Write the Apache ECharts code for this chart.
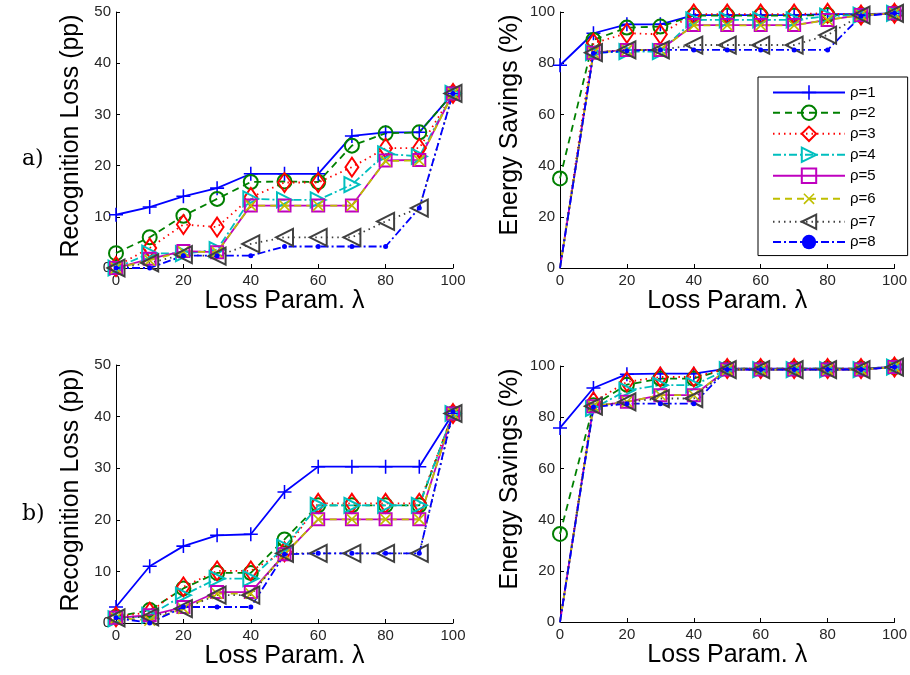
<!DOCTYPE html>
<html><head><meta charset="utf-8">
<script src="https://cdn.jsdelivr.net/npm/echarts@6/dist/echarts.min.js"></script>
<style>html,body{margin:0;padding:0;background:#fff}#c{width:910px;height:675px}</style>
</head><body><div id="c"></div>
<script>
const lambda = [0,10,20,30,40,50,60,70,80,90,100];
const rhoNames = ['ρ=1','ρ=2','ρ=3','ρ=4','ρ=5','ρ=6','ρ=7','ρ=8'];

// a) Recognition Loss (pp)
const lossA_r1 = [10.4,11.9,14.0,15.6,18.4,18.4,18.4,25.8,26.5,26.5,34.1];
const lossA_r2 = [2.9,6.0,10.2,13.5,16.8,16.9,16.8,23.9,26.3,26.5,34.1];
const lossA_r3 = [0.3,3.9,8.5,8.0,13.8,16.7,16.7,19.7,23.4,23.4,34.1];
const lossA_r4 = [0,2.9,2.8,3.6,13.5,13.3,13.3,16.3,22.3,21.8,34.1];
const lossA_r5 = [0,1.8,3.3,3.1,12.2,12.2,12.2,12.2,21.0,21.1,34.1];
const lossA_r6 = [0,1.5,3.2,3.1,12.2,12.2,12.2,12.2,20.9,21.0,34.1];
const lossA_r7 = [0,1.0,2.6,2.3,4.7,6.0,6.0,6.0,9.1,11.7,34.1];
const lossA_r8 = [0,0,2.4,2.4,2.4,4.2,4.2,4.2,4.2,11.7,34.1];
// a) Energy Savings (%)
const energyA_r1 = [79.2,91.7,95.2,95.2,98.8,98.8,98.8,98.8,99.2,99.2,99.5];
const energyA_r2 = [35.0,89.1,93.9,94.3,98.6,98.6,98.6,98.6,98.8,98.8,99.5];
const energyA_r3 = [0,87.8,91.7,91.3,99.2,99.2,99.2,99.2,99.5,98.8,99.5];
const energyA_r4 = [0,84.1,84.5,84.5,96.9,96.9,96.9,96.9,98.4,98.8,99.5];
const energyA_r5 = [0,84.1,85.2,85.2,94.9,94.9,94.9,94.9,96.9,98.8,99.5];
const energyA_r6 = [0,84.1,85.1,85.2,94.8,94.8,94.8,94.8,96.9,98.8,99.5];
const energyA_r7 = [0,84.1,85.2,85.2,87.1,87.1,87.1,87.1,91.0,98.8,99.5];
const energyA_r8 = [0,83.9,84.9,85.2,85.2,85.2,85.2,85.2,85.2,98.4,99.5];
// b) Recognition Loss (pp)
const lossB_r1 = [3.1,11.0,14.9,17.0,17.2,25.4,30.3,30.3,30.3,30.3,40.6];
const lossB_r2 = [1.2,2.5,6.7,9.7,9.7,16.2,22.8,22.8,22.8,22.8,40.6];
const lossB_r3 = [1.2,2.1,7.0,10.1,10.1,13.8,23.2,23.2,23.2,23.2,40.6];
const lossB_r4 = [0.8,1.5,5.4,8.6,8.6,14.7,22.8,22.8,22.8,22.8,40.6];
const lossB_r5 = [1.0,1.5,3.1,6.0,6.0,13.3,20.1,20.1,20.1,20.1,40.6];
const lossB_r6 = [1.0,0.5,2.8,5.7,5.7,13.3,20.1,20.1,20.1,20.1,40.6];
const lossB_r7 = [1.0,1.2,2.8,5.4,5.4,13.5,13.5,13.5,13.5,13.5,40.6];
const lossB_r8 = [1.0,0,3.1,3.1,3.1,13.3,13.5,13.5,13.5,13.5,40.9];
// b) Energy Savings (%)
const energyB_r1 = [75.8,91.4,96.8,97.0,97.0,99.0,99.0,99.0,99.0,99.0,99.6];
const energyB_r2 = [34.4,84.7,92.7,95.1,95.1,99.0,99.0,99.0,99.0,99.0,99.6];
const energyB_r3 = [0,86.0,93.8,95.7,95.7,99.0,99.0,99.0,99.0,99.0,99.6];
const energyB_r4 = [0,83.4,90.5,92.5,92.5,98.6,98.6,98.6,98.6,98.6,99.6];
const energyB_r5 = [0,84.3,86.0,88.6,88.6,98.6,98.6,98.6,98.6,98.6,99.6];
const energyB_r6 = [0,84.3,86.0,88.6,88.6,98.6,98.6,98.6,98.6,98.6,99.6];
const energyB_r7 = [0,84.3,86.0,87.3,87.3,98.6,98.6,98.6,98.6,98.6,99.6];
const energyB_r8 = [0,84.0,85.3,85.3,85.3,98.6,98.6,98.6,98.6,98.6,99.6];

const panels = [
  [lossA_r1,lossA_r2,lossA_r3,lossA_r4,lossA_r5,lossA_r6,lossA_r7,lossA_r8],
  [energyA_r1,energyA_r2,energyA_r3,energyA_r4,energyA_r5,energyA_r6,energyA_r7,energyA_r8],
  [lossB_r1,lossB_r2,lossB_r3,lossB_r4,lossB_r5,lossB_r6,lossB_r7,lossB_r8],
  [energyB_r1,energyB_r2,energyB_r3,energyB_r4,energyB_r5,energyB_r6,energyB_r7,energyB_r8]
];
// energy panels: the reference shows no marker at the zero start point
const hideZeroMarker = [false,true,false,true];

const PLUS = 'path://M-0.11,-1 L0.11,-1 L0.11,-0.11 L1,-0.11 L1,0.11 L0.11,0.11 L0.11,1 L-0.11,1 L-0.11,0.11 L-1,0.11 L-1,-0.11 L-0.11,-0.11 Z';
const styles = [
  {c:'#0000ff', t:'solid', sym:PLUS, size:14, fill:true, rot:0},
  {c:'#008000', t:[7,5], sym:'circle', size:14, fill:false, rot:0},
  {c:'#ff0000', t:[1.5,4], sym:'diamond', size:[13,19], fill:false, rot:0},
  {c:'#00bfbf', t:[8,3,2,3], sym:'triangle', size:15, fill:false, rot:-90},
  {c:'#bf00bf', t:'solid', sym:'rect', size:12, fill:false, rot:0},
  {c:'#bfbf00', t:[7,5], sym:PLUS, size:15, fill:true, rot:45},
  {c:'#404040', t:[1.5,4], sym:'triangle', size:17, fill:false, rot:90},
  {c:'#0000ff', t:[8,3,2,3], sym:'circle', size:5, fill:true, rot:0}
];

const grids = [
  {left:116, top:12, width:337, height:256},
  {left:560, top:12, width:338, height:256},
  {left:116, top:365, width:337, height:258},
  {left:560, top:366, width:338, height:256}
];
const yNames = ['Recognition Loss (pp)','Energy Savings (%)','Recognition Loss (pp)','Energy Savings (%)'];
const yMax = [50,100,50,100];
const yInt = [10,20,10,20];
const yGap = [32,37,32,37];
const yPad = [[0,0,0,8],[0,0,0,30],[0,0,0,8],[0,0,0,30]];
const FONT = 'Liberation Sans';

const xAxes = grids.map((g,i)=>({
  type:'value', gridIndex:i, min:0, max:100, interval:20,
  name:'Loss Param. λ', nameLocation:'middle', nameGap:21,
  nameTextStyle:{fontFamily:FONT, fontSize:25, color:'#000'},
  axisLine:{lineStyle:{color:'#000', width:1}},
  axisTick:{inside:true, length:4, lineStyle:{color:'#000'}},
  axisLabel:{fontFamily:FONT, fontSize:15, color:'#262626', margin:5},
  splitLine:{show:false}
}));
const yAxes = grids.map((g,i)=>({
  type:'value', gridIndex:i, min:0, max:yMax[i], interval:yInt[i],
  name:yNames[i], nameLocation:'middle', nameGap:yGap[i],
  nameTextStyle:{fontFamily:FONT, fontSize:25, color:'#000', padding:yPad[i]},
  axisLine:{show:true, lineStyle:{color:'#000', width:1}},
  axisTick:{show:true, inside:true, length:4, lineStyle:{color:'#000'}},
  axisLabel:{fontFamily:FONT, fontSize:15, color:'#262626', margin:5},
  splitLine:{show:false}
}));

const series = [];
panels.forEach((arrs, p)=>{
  arrs.forEach((vals, k)=>{
    const s = styles[k];
    series.push({
      type:'line', name:rhoNames[k], xAxisIndex:p, yAxisIndex:p,
      data: lambda.map((x,j)=>{
        const item = {value:[x, vals[j]]};
        if (hideZeroMarker[p] && vals[j] === 0) item.symbol = 'none';
        return item;
      }),
      symbol:s.sym, symbolSize:s.size, symbolRotate:s.rot, showAllSymbol:true,
      clip:false, animation:false,
      lineStyle:{color:s.c, width:1.8, type:s.t},
      itemStyle: s.fill ? {color:s.c, borderWidth:0} : {color:'rgba(255,255,255,0)', borderColor:s.c, borderWidth:2},
      emphasis:{disabled:true}
    });
  });
});

const chart = echarts.init(document.getElementById('c'), null, {renderer:'canvas'});
chart.setOption({
  backgroundColor:'#fff',
  animation:false,
  grid:grids,
  xAxis:xAxes,
  yAxis:yAxes,
  legend:{
    data:rhoNames, orient:'vertical', left:758, top:77,
    itemWidth:72, itemHeight:18, itemGap:4.6,
    padding:[8,32,6,14],
    borderColor:'#000', borderWidth:1, backgroundColor:'#fff',
    textStyle:{fontFamily:FONT, fontSize:15, color:'#000'},
    selectedMode:false
  },
  graphic:[
    {type:'text', left:22, top:148, style:{text:'a)', font:'22px "DejaVu Serif"', fill:'#000'}},
    {type:'text', left:22, top:503, style:{text:'b)', font:'22px "DejaVu Serif"', fill:'#000'}}
  ],
  series:series
});
</script></body></html>
